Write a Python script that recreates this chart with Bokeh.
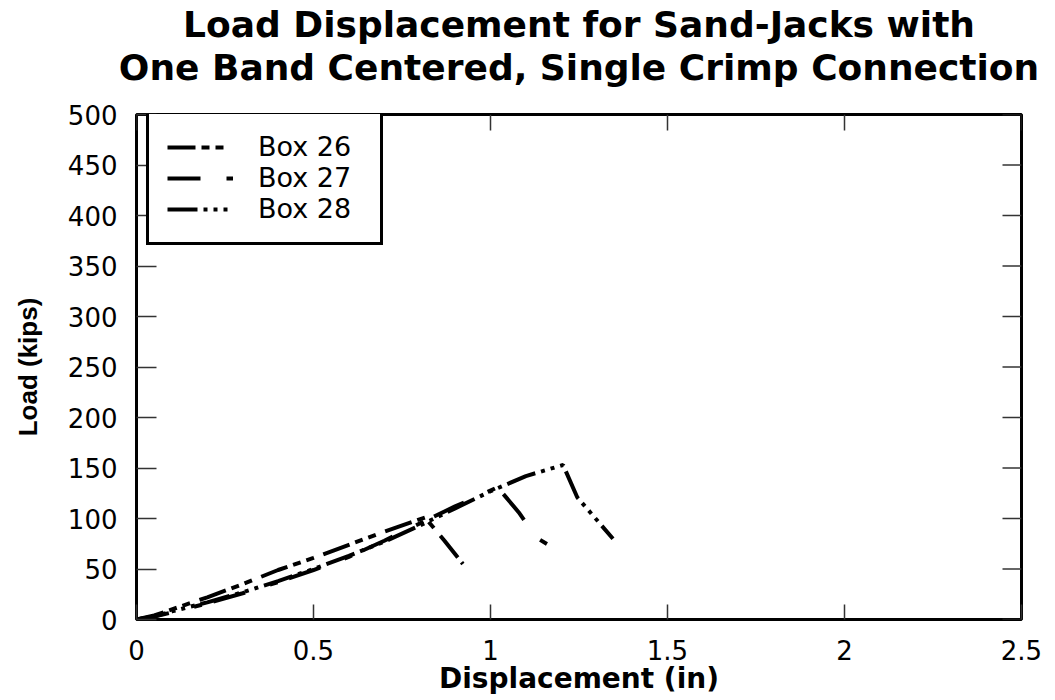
import math
from bokeh.plotting import figure
from bokeh.models import FixedTicker, NumeralTickFormatter, Range1d, Title
from bokeh.embed import file_html
from bokeh.resources import INLINE

# ---- data ----
box26_x = [0, 0.05, 0.1, 0.2, 0.3, 0.4, 0.5, 0.6, 0.7, 0.815, 0.87, 0.922]
box26_y = [0, 4, 10, 22, 35, 49, 61, 74, 87, 101, 78, 55]

box27_x = [0, 0.05, 0.1, 0.2, 0.3, 0.4, 0.5, 0.6, 0.7, 0.8, 0.9, 0.96, 1.02, 1.08, 1.13, 1.177]
box27_y = [0, 3, 7, 16, 26, 37, 49, 62, 78, 95, 112, 121, 131, 106, 81, 71]

box28_x = [0, 0.05, 0.1, 0.2, 0.3, 0.4, 0.5, 0.6, 0.7, 0.8, 0.9, 1.0, 1.1, 1.205, 1.245, 1.346]
box28_y = [0, 3, 8, 17, 27, 38, 50, 63, 77, 93, 110, 127, 142, 153, 121, 80]

x_ticks = [0, 0.5, 1, 1.5, 2, 2.5]
y_ticks = [0, 50, 100, 150, 200, 250, 300, 350, 400, 450, 500]

series_names = ["Box 26", "Box 27", "Box 28"]
title_line1 = "Load Displacement for Sand-Jacks with"
title_line2 = "One Band Centered, Single Crimp Connection"
x_label = "Displacement (in)"
y_label = "Load (kips)"

X_MAX = 2.5
Y_MAX = 500
TICK_FONT = "DejaVu Sans"

p = figure(width=1046, height=697, output_backend="svg", toolbar_location=None,
           x_range=Range1d(0, X_MAX), y_range=Range1d(0, Y_MAX),
           min_border_left=136, min_border_right=25, min_border_top=114,
           min_border_bottom=77, x_axis_label=x_label, y_axis_label=y_label)
p.title.visible = False
p.grid.visible = False
p.background_fill_color = "white"
p.border_fill_color = "white"
p.outline_line_color = "black"
p.outline_line_width = 3

for ax, ticks in ((p.xaxis[0], x_ticks), (p.yaxis[0], y_ticks)):
    ax.ticker = FixedTicker(ticks=ticks)
    ax.axis_line_color = None
    ax.major_tick_out = 0
    ax.minor_tick_line_color = None
    ax.major_tick_line_color = "#333333"
    ax.major_tick_line_width = 1.5
    ax.major_label_text_font = TICK_FONT
    ax.major_label_text_font_size = "26px"
    ax.major_label_text_color = "black"
    ax.axis_label_text_color = "black"
    ax.axis_label_text_font_style = "bold"

xa = p.xaxis[0]
xa.formatter = NumeralTickFormatter(format="0.[0]")
xa.major_tick_in = 15
xa.major_label_standoff = 20
xa.axis_label_text_font = "DejaVu Sans"
xa.axis_label_text_font_size = "28px"
xa.axis_label_standoff = -1

ya = p.yaxis[0]
ya.major_tick_in = 20
ya.major_label_standoff = 19
ya.axis_label_text_font = "Liberation Sans"
ya.axis_label_text_font_size = "26px"
ya.axis_label_standoff = 22

# inward ticks on the top and right edges of the frame
p.ray(x=x_ticks, y=[Y_MAX] * len(x_ticks), length=16, length_units="screen",
      angle=-math.pi / 2, line_color="#333333", line_width=1.5)
p.ray(x=[X_MAX] * len(y_ticks), y=y_ticks, length=19, length_units="screen",
      angle=math.pi, line_color="#333333", line_width=1.5)

# two-line title (added nearest-first); bottom padding lifts it off the frame
t2 = Title(text=title_line2, align="center", text_font="DejaVu Sans",
           text_font_style="bold", text_font_size="36px",
           text_color="black", standoff=0,
           padding=dict(left=0, right=0, top=0, bottom=27))
p.add_layout(t2, "above")
t1 = Title(text=title_line1, align="center", text_font="DejaVu Sans",
           text_font_style="bold", text_font_size="36px",
           text_color="black", standoff=0)
p.add_layout(t1, "above")

p.line(box26_x, box26_y, line_color="black", line_width=4,
       line_dash="28 6 8 6 8 10", legend_label=series_names[0])
p.line(box27_x, box27_y, line_color="black", line_width=4,
       line_dash="33 26 8 12", legend_label=series_names[1])
p.line(box28_x, box28_y, line_color="black", line_width=4,
       line_dash="30 6 4 6 4 6 4 6", legend_label=series_names[2])

lg = p.legend[0]
lg.location = (10, 374)
lg.border_line_color = "black"
lg.border_line_alpha = 1
lg.border_line_width = 3
lg.background_fill_color = "white"
lg.background_fill_alpha = 1
lg.label_text_font = TICK_FONT
lg.label_text_font_size = "27px"
lg.label_text_color = "black"
lg.glyph_width = 66
lg.glyph_height = 28
lg.label_height = 28
lg.label_width = 104
lg.label_standoff = 25
lg.spacing = 0
lg.padding = 18
lg.margin = 0

open("out.html", "w").write(file_html(p, INLINE))
